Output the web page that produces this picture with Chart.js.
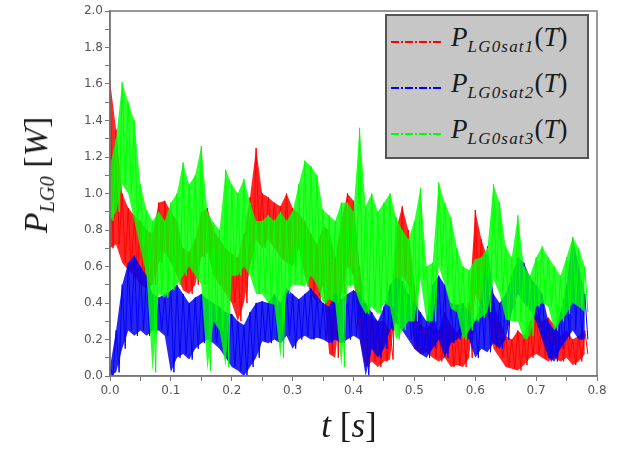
<!DOCTYPE html>
<html>
<head>
<meta charset="utf-8">
<script src="https://cdn.jsdelivr.net/npm/chart.js@4"></script>
<style>
  body { margin: 0; background: #fff; }
  #wrap { position: relative; width: 617px; height: 453px; }
  #chart { position: absolute; left: 0; top: 0; }
  .math { font-family: "Liberation Serif", "DejaVu Serif", serif; font-style: italic; color: #1a1a1a; white-space: nowrap; }
  .math .up { font-style: normal; }
  .math sub { font-size: 0.6em; vertical-align: -0.35em; line-height: 0; }
  #ytitle { position: absolute; left: 36px; top: 175px; font-size: 34px; transform: translate(-50%, -50%) rotate(-90deg); }
  #xtitle { position: absolute; left: 349px; top: 426px; font-size: 35px; transform: translate(-50%, -50%); }
  #legend { position: absolute; left: 385px; top: 14px; width: 200px; height: 141px; background: #c6c6c6; border: 2px solid #555; }
  .row { position: absolute; left: 0; height: 30px; width: 200px; }
  .sample { position: absolute; left: 4px; width: 50px; height: 2px; }
  .lab { position: absolute; left: 64px; font-size: 27px; }
  .lab sub { font-size: 17px; letter-spacing: 1.2px; vertical-align: -6px; }
</style>
</head>
<body>
<div id="wrap">
  <canvas id="chart" width="617" height="453"></canvas>
  <div id="ytitle" class="math">P<sub>LG0</sub> <span class="up">[</span>W<span class="up">]</span></div>
  <div id="xtitle" class="math">t <span class="up">[</span>s<span class="up">]</span></div>
  <div id="legend"></div>
</div>
<script>
// sampling grid: one envelope pair every 10 ms, t = 0.00 ... 0.78 s
const tStep = 0.01;

// P_LG0sat1(T) - red, upper / lower envelope [W]
const sat1Hi = [1.62,1.35,1.00,0.92,0.88,0.85,0.80,0.78,0.95,0.96,
                0.90,0.85,0.70,0.68,0.75,0.90,0.92,0.80,0.75,0.70,
                0.67,0.65,0.78,0.98,1.25,1.00,0.98,0.95,0.93,1.00,
                0.92,0.89,0.85,0.78,0.72,0.82,0.80,0.65,0.85,1.00,
                0.96,0.60,0.35,0.32,0.30,0.30,0.25,0.80,0.93,0.80,
                0.50,0.28,0.26,0.30,0.25,0.35,0.28,0.24,0.30,0.40,
                0.91,0.75,0.65,0.40,0.30,0.22,0.20,0.25,0.22,0.30,
                0.35,0.30,0.32,0.28,0.22,0.25,0.20,0.22,0.25];
const sat1Lo = [0.70,0.72,0.62,0.58,0.55,0.50,0.48,0.50,0.62,0.68,
                0.62,0.55,0.47,0.45,0.50,0.65,0.68,0.55,0.50,0.45,
                0.40,0.30,0.40,0.60,0.75,0.70,0.75,0.70,0.65,0.62,
                0.60,0.70,0.55,0.45,0.40,0.50,0.12,0.10,0.45,0.60,
                0.55,0.20,0.05,0.08,0.05,0.08,0.09,0.40,0.55,0.50,
                0.15,0.12,0.13,0.10,0.08,0.10,0.05,0.06,0.05,0.10,
                0.45,0.38,0.35,0.15,0.10,0.05,0.04,0.03,0.06,0.10,
                0.12,0.10,0.08,0.10,0.08,0.10,0.06,0.08,0.12];

// P_LG0sat2(T) - blue
const sat2Hi = [0.05,0.25,0.50,0.62,0.66,0.60,0.55,0.45,0.43,0.45,
                0.47,0.50,0.45,0.40,0.43,0.45,0.42,0.40,0.38,0.35,
                0.34,0.30,0.28,0.35,0.40,0.41,0.40,0.45,0.40,0.48,
                0.45,0.42,0.45,0.48,0.44,0.40,0.38,0.45,0.42,0.45,
                0.47,0.45,0.40,0.35,0.30,0.38,0.50,0.54,0.52,0.45,
                0.40,0.35,0.30,0.50,0.55,0.50,0.40,0.39,0.40,0.35,
                0.30,0.42,0.71,0.45,0.40,0.45,0.55,0.65,0.62,0.54,
                0.50,0.45,0.30,0.25,0.35,0.50,0.76,0.60,0.45];
const sat2Lo = [0.00,0.02,0.15,0.25,0.22,0.25,0.22,0.25,0.25,0.22,
                0.02,0.10,0.12,0.09,0.15,0.18,0.20,0.18,0.15,0.10,
                0.05,0.03,0.00,0.05,0.10,0.19,0.18,0.20,0.18,0.22,
                0.15,0.20,0.22,0.20,0.21,0.20,0.18,0.20,0.18,0.20,
                0.22,0.20,0.00,0.15,0.10,0.15,0.25,0.29,0.25,0.20,
                0.15,0.12,0.10,0.15,0.20,0.10,0.18,0.20,0.23,0.20,
                0.10,0.15,0.13,0.18,0.15,0.20,0.35,0.45,0.40,0.36,
                0.30,0.20,0.10,0.08,0.15,0.20,0.25,0.20,0.20];

// P_LG0sat3(T) - green
const sat3Hi = [1.15,1.30,1.61,1.50,1.40,1.05,0.91,0.85,0.90,0.85,
                0.95,1.00,1.17,1.05,1.10,1.26,0.90,0.84,0.80,1.13,
                1.05,1.00,1.08,0.95,0.85,0.85,0.88,0.85,0.90,0.85,
                0.90,1.05,1.18,1.15,1.10,0.91,0.88,0.85,0.95,0.95,
                0.90,1.36,0.93,1.00,0.90,0.95,1.00,0.87,0.80,0.75,
                0.85,1.03,0.60,0.62,1.06,0.95,0.87,0.70,0.60,0.58,
                0.64,0.65,0.70,1.05,0.95,0.71,0.65,0.88,0.60,0.55,
                0.65,0.71,0.65,0.60,0.55,0.65,0.76,0.70,0.60];
const sat3Lo = [0.85,0.90,1.05,1.00,0.85,0.70,0.55,0.02,0.45,0.43,
                0.47,0.50,0.55,0.60,0.55,0.50,0.03,0.30,0.25,0.05,
                0.55,0.55,0.60,0.55,0.45,0.45,0.40,0.39,0.10,0.45,
                0.50,0.50,0.49,0.55,0.50,0.40,0.42,0.40,0.05,0.49,
                0.50,0.40,0.34,0.38,0.34,0.40,0.38,0.20,0.25,0.30,
                0.30,0.53,0.30,0.30,0.60,0.50,0.37,0.35,0.20,0.25,
                0.30,0.32,0.35,0.53,0.45,0.31,0.30,0.30,0.20,0.22,
                0.38,0.40,0.38,0.25,0.30,0.34,0.40,0.38,0.35];

const seriesNames = ["LG0sat1", "LG0sat2", "LG0sat3"];
const seriesColors = ["#ff0000", "#0000ff", "#00ff00"];
const bandColors = ["rgba(255,0,0,0.85)", "rgba(0,0,235,0.85)", "rgba(0,255,0,0.82)"];
const envelopes = [[sat1Hi, sat1Lo], [sat2Hi, sat2Lo], [sat3Hi, sat3Lo]];

function edge(vals) {
  return vals.map((v, i) => ({ x: i * tStep, y: v }));
}

// zig-zag between the upper and lower envelope so the trace reads as noise
function trace(hi, lo) {
  const pts = [];
  for (let i = 0; i < hi.length; i++) {
    pts.push({ x: i * tStep, y: hi[i] });
    pts.push({ x: i * tStep + tStep / 2, y: lo[i] });
  }
  return pts;
}

// band (lo, hi filled to lo) + noisy trace for each series; green drawn last
const datasets = [];
envelopes.forEach(([hi, lo], k) => {
  const layer = (3 - k) * 10;
  datasets.push({ data: edge(lo), borderWidth: 0, borderColor: "transparent", fill: false, order: layer + 2 });
  datasets.push({ data: edge(hi), borderWidth: 0, borderColor: "transparent",
                  backgroundColor: bandColors[k], fill: "-1", order: layer + 1 });
  datasets.push({ data: trace(hi, lo), borderColor: seriesColors[k], borderWidth: 1, fill: false, order: layer });
});

const tickFont = { family: "DejaVu Sans", size: 12 };
const axisGray = "#777";

const frame = {
  id: "frame",
  afterDraw(chart) {
    const a = chart.chartArea, c = chart.ctx;
    c.save();
    c.strokeStyle = axisGray;
    c.lineWidth = 1.5;
    c.strokeRect(a.left, a.top, a.right - a.left, a.bottom - a.top);
    c.restore();
  }
};

new Chart(document.getElementById("chart"), {
  type: "line",
  data: { datasets },
  options: {
    responsive: false,
    animation: false,
    layout: { padding: { left: 60, right: 20, top: 11, bottom: 47 } },
    elements: {
      point: { radius: 0 },
      line: { tension: 0 }
    },
    plugins: { legend: { display: false }, tooltip: { enabled: false } },
    scales: {
      x: {
        type: "linear", min: 0, max: 0.8,
        afterFit(s) { s.height = 30; },
        ticks: {
          stepSize: 0.05, autoSkip: false, maxRotation: 0, padding: 3,
          color: "#555", font: tickFont,
          callback: v => Math.round(v * 100) % 10 === 0 ? v.toFixed(1) : ""
        },
        grid: { drawOnChartArea: false, tickLength: 5, color: axisGray },
        border: { color: axisGray, width: 1.5 }
      },
      y: {
        min: 0, max: 2,
        afterFit(s) { s.width = 50; },
        ticks: {
          stepSize: 0.1, autoSkip: false, padding: 2,
          color: "#555", font: tickFont,
          callback: v => Math.round(v * 10) % 2 === 0 ? v.toFixed(1) : ""
        },
        grid: { drawOnChartArea: false, tickLength: 5, color: axisGray },
        border: { color: axisGray, width: 1.5 }
      }
    }
  },
  plugins: [frame]
});

// legend with math-style labels
const legend = document.getElementById("legend");
seriesNames.forEach((name, i) => {
  const row = document.createElement("div");
  row.className = "row";
  row.style.top = (12 + i * 46) + "px";
  const sample = document.createElement("div");
  sample.className = "sample";
  sample.style.top = "13px";
  sample.style.background = "repeating-linear-gradient(90deg," + seriesColors[i] + " 0 8px, transparent 8px 10px," +
    seriesColors[i] + " 10px 12px, transparent 12px 14px)";
  const lab = document.createElement("div");
  lab.className = "lab math";
  lab.style.top = "-6px";
  lab.innerHTML = "P<sub>" + name + "</sub><span class='up'>(</span>T<span class='up'>)</span>";
  row.appendChild(sample);
  row.appendChild(lab);
  legend.appendChild(row);
});
</script>
</body>
</html>
